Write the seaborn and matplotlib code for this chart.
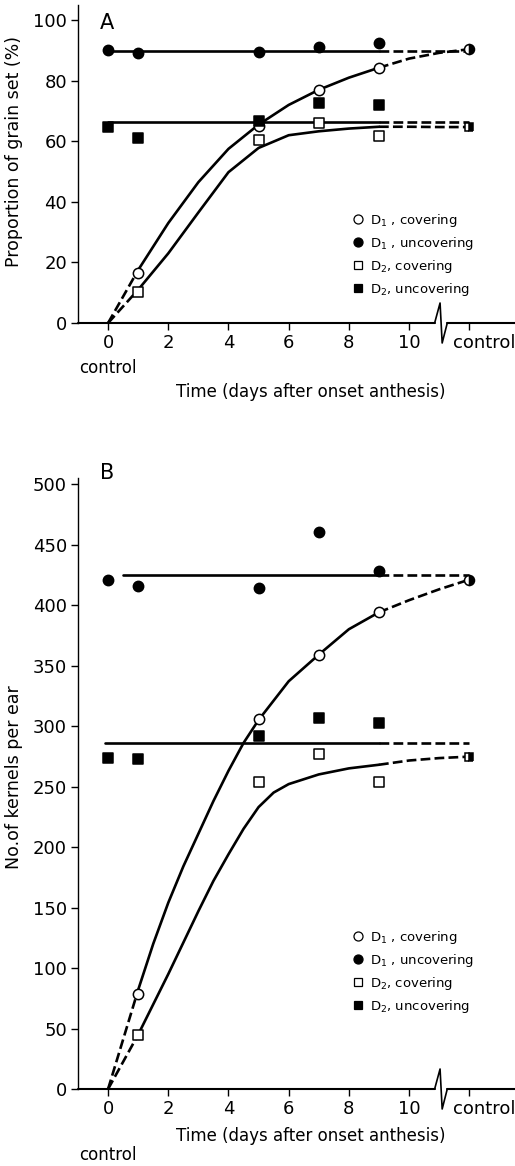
import numpy as np
import pandas as pd
import matplotlib
matplotlib.use("Agg")
import matplotlib.pyplot as plt
import seaborn as sns
from matplotlib.lines import Line2D

# ---------------- data: panel A (proportion of grain set, %) ----------------
days_unc = [0, 1, 5, 7, 9]
days_cov = [1, 5, 7, 9]
ctrl_x = 12
xtick_vals = [0, 2, 4, 6, 8, 10, 12]
xtick_labels = ["0", "2", "4", "6", "8", "10", ""]

A_d1_unc = [90.0, 89.1, 89.4, 91.0, 92.6]
A_d1_cov = [16.4, 65.2, 76.9, 84.3]
A_d2_cov = [10.2, 60.4, 66.1, 61.7]
A_d2_unc = [64.7, 61.0, 66.7, 72.5, 72.0]
A_ctrl_d1 = 90.4
A_ctrl_d2 = 64.7
A_mean_d1_unc = 89.8
A_mean_d2_unc = 66.3
A_mean_start = [0, 0]

A_curve_x = [1, 2, 3, 4, 5, 6, 7, 8, 9]
A_curve_d1 = [17.5, 33.0, 46.5, 57.5, 65.5, 72.0, 77.0, 81.0, 84.3]
A_curve_d2 = [11.0, 23.0, 36.5, 49.8, 57.8, 62.0, 63.3, 64.2, 64.8]
ext_x = [9, 10, 11, 12]
A_ext_d1 = [84.3, 87.3, 89.2, 90.4]
A_ext_d2 = [64.8, 64.8, 64.7, 64.7]
A_yticks = [0, 20, 40, 60, 80, 100]

# ---------------- data: panel B (kernels per ear) ----------------
B_d1_unc = [421.0, 415.4, 413.8, 460.6, 428.0]
B_d1_cov = [78.3, 305.5, 359.0, 394.0]
B_d2_cov = [44.4, 254.0, 276.6, 253.5]
B_d2_unc = [273.3, 272.7, 291.7, 307.0, 302.2]
B_ctrl_d1 = 421.0
B_ctrl_d2 = 274.7
B_mean_d1_unc = 424.5
B_mean_d2_unc = 285.7
B_mean_start = [0.5, -0.1]

B_curve_d1_x = [1, 1.5, 2, 2.5, 3, 3.5, 4, 4.5, 5, 6, 7, 8, 9]
B_curve_d1 = [82, 120, 154, 184, 211, 238, 263, 286, 305, 337, 359, 380, 394]
B_curve_d2_x = [1, 1.5, 2, 2.5, 3, 3.5, 4, 4.5, 5, 5.5, 6, 7, 8, 9]
B_curve_d2 = [45, 70, 95, 121, 147, 172, 194, 215, 233, 245, 252, 260, 265, 268]
B_ext_d1 = [394, 404, 413, 421]
B_ext_d2 = [268, 271.5, 273.5, 274.7]
B_yticks = [0, 50, 100, 150, 200, 250, 300, 350, 400, 450, 500]

legend_labels = [r"D$_1$ , covering", r"D$_1$ , uncovering",
                 r"D$_2$, covering", r"D$_2$, uncovering"]

# ---------------- style ----------------
sns.set_style("ticks")
plt.rcParams["font.family"] = ["DejaVu Sans"]
plt.rcParams["mathtext.fontset"] = "dejavusans"
for k in ["text.color", "axes.labelcolor", "xtick.color", "ytick.color",
          "axes.edgecolor"]:
    plt.rcParams[k] = "black"

W, H = 515, 1166
fig = plt.figure(figsize=(W / 100, H / 100), dpi=100)

LW = 1.9
DASH = (3.6, 2.0)


def line(ax, x, y, dashed=False):
    kw = dict(color="black", linewidth=LW, ax=ax, sort=False, zorder=2)
    if dashed:
        kw["dashes"] = DASH
        sns.lineplot(x=x, y=y, linestyle="--", **kw)
    else:
        sns.lineplot(x=x, y=y, **kw)


def panel(ax, ax_h_px, ymax, yticks, d1_unc, d1_cov, d2_cov, d2_unc,
          ctrl_d1, ctrl_d2, mean1, mean2, mstart, c1x, c1, c2x, c2,
          e1, e2, ylabel, letter, letter_y, leg_y, xlabel_y, ctrl_y,
          ylabel_y):
    # horizontal means of uncovering
    line(ax, [mstart[0], 9], [mean1, mean1])
    line(ax, [9, ctrl_x], [mean1, mean1], dashed=True)
    line(ax, [mstart[1], 9], [mean2, mean2])
    line(ax, [9, ctrl_x], [mean2, mean2], dashed=True)
    # covering curves
    line(ax, [0, c1x[0]], [0, c1[0]], dashed=True)
    line(ax, c1x, c1)
    line(ax, ext_x, e1, dashed=True)
    line(ax, [0, c2x[0]], [0, c2[0]], dashed=True)
    line(ax, c2x, c2)
    line(ax, ext_x, e2, dashed=True)

    ms_c, ms_s = 55, 42
    sns.scatterplot(x=days_cov, y=d1_cov, marker="o", s=ms_c, color="white",
                    edgecolor="black", linewidth=1.1, ax=ax, zorder=4)
    sns.scatterplot(x=days_unc, y=d1_unc, marker="o", s=ms_c, color="black",
                    edgecolor="black", linewidth=1.1, ax=ax, zorder=4)
    sns.scatterplot(x=days_cov, y=d2_cov, marker="s", s=ms_s, color="white",
                    edgecolor="black", linewidth=1.1, ax=ax, zorder=4)
    sns.scatterplot(x=days_unc, y=d2_unc, marker="s", s=ms_s, color="black",
                    edgecolor="black", linewidth=1.1, ax=ax, zorder=4)
    # control (half-filled)
    ax.plot([ctrl_x], [ctrl_d1], marker="o", ms=7.2, fillstyle="right",
            mfc="black", mfcalt="white", mec="black", mew=1.1, ls="", zorder=5)
    ax.plot([ctrl_x], [ctrl_d2], marker="s", ms=6.4, fillstyle="right",
            mfc="black", mfcalt="white", mec="black", mew=1.1, ls="", zorder=5)

    ax.set_xlim(-1.0, 13.52)
    ax.set_ylim(0, ymax)
    ax.set_xticks(xtick_vals)
    ax.set_xticklabels(xtick_labels)
    ax.set_yticks(yticks)
    ax.tick_params(axis="both", direction="out", length=5, width=1.0,
                   labelsize=13, pad=3, color="black", labelcolor="black")
    sns.despine(ax=ax)
    ax.spines["left"].set_linewidth(1.0)
    ax.spines["bottom"].set_visible(False)

    # x axis line with break
    bx = [10.85, 11.03, 11.1, 11.27]
    up = 20 / ax_h_px
    tr = ax.get_xaxis_transform()
    ax.plot([-1.0, bx[0]], [0, 0], color="black", lw=1.5, transform=tr,
            clip_on=False, zorder=3)
    ax.plot(bx, [0, up, -up, 0], color="black", lw=1.2, transform=tr,
            clip_on=False, zorder=3)
    ax.plot([bx[3], 13.52], [0, 0], color="black", lw=1.5, transform=tr,
            clip_on=False, zorder=3)

    ax.text(11.45, -20 / ax_h_px, "control", transform=tr,
            ha="left", va="center", fontsize=13)
    ax.text(0, ctrl_y, "control", transform=tr, ha="center", va="center",
            fontsize=12)

    ax.set_xlabel("Time (days after onset anthesis)", fontsize=12)
    ax.xaxis.set_label_coords(0.533, xlabel_y)
    ax.set_ylabel(ylabel, fontsize=12.5)
    ax.yaxis.set_label_coords(-0.125, ylabel_y)

    ax.text(0.05, letter_y, letter, transform=ax.transAxes, fontsize=15,
            ha="left", va="top")

    handles = [
        Line2D([], [], marker="o", ls="", ms=6.5, mfc="white", mec="black", mew=0.9),
        Line2D([], [], marker="o", ls="", ms=6.5, mfc="black", mec="black", mew=0.9),
        Line2D([], [], marker="s", ls="", ms=5.5, mfc="white", mec="black", mew=0.9),
        Line2D([], [], marker="s", ls="", ms=5.5, mfc="black", mec="black", mew=0.9),
    ]
    ax.legend(handles, legend_labels, loc="upper left",
              bbox_to_anchor=(0.625, leg_y), frameon=False, fontsize=9.5,
              handlelength=1.0, handletextpad=0.4, labelspacing=0.45,
              borderpad=0, borderaxespad=0)


axA = fig.add_axes([78 / W, 1 - 323 / H, 437 / W, 318 / H])
axB = fig.add_axes([78 / W, 1 - 1089 / H, 437 / W, 611 / H])

panel(axA, 318, 105, A_yticks, A_d1_unc, A_d1_cov, A_d2_cov, A_d2_unc,
      A_ctrl_d1, A_ctrl_d2, A_mean_d1_unc, A_mean_d2_unc, A_mean_start,
      A_curve_x, A_curve_d1, A_curve_x, A_curve_d2, A_ext_d1, A_ext_d2,
      "Proportion of grain set (%)", "A", 0.975, 0.35, -0.19, -0.1415, 0.54)

panel(axB, 611, 505, B_yticks, B_d1_unc, B_d1_cov, B_d2_cov, B_d2_unc,
      B_ctrl_d1, B_ctrl_d2, B_mean_d1_unc, B_mean_d2_unc, B_mean_start,
      B_curve_d1_x, B_curve_d1, B_curve_d2_x, B_curve_d2, B_ext_d1, B_ext_d2,
      "No.of kernels per ear", "B", 1.0245, 0.262, -0.062, -0.108, 0.51)

fig.savefig("out.png", dpi=100)
